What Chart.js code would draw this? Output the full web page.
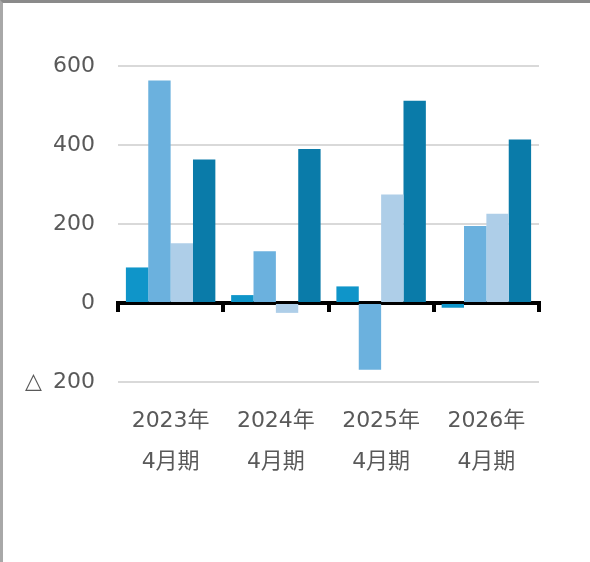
<!DOCTYPE html>
<html>
<head>
<meta charset="utf-8">
<script src="https://cdn.jsdelivr.net/npm/chart.js@4.4.1/dist/chart.umd.min.js"></script>
<style>
  html, body { margin: 0; padding: 0; background: #fff; }
  #box { position: absolute; left: 0; top: 0; width: 590px; height: 562px; }
  #frame { position: absolute; left: 0; top: 0; width: 590px; height: 562px; box-sizing: border-box;
           border-top: 3px solid #8a8a8a; border-left: 3px solid #a8a8a8; pointer-events: none; }
</style>
</head>
<body>
<div id="box"><canvas id="c" width="590" height="562"></canvas></div>
<div id="frame"></div>
<script>
var categories = [['2023年', '4月期'], ['2024年', '4月期'], ['2025年', '4月期'], ['2026年', '4月期']];
var series1 = [90, 20, 42, -12];
var series2 = [563, 131, -169, 195];
var series3 = [151, -25, 275, 226];
var series4 = [363, 390, 512, 414];
var seriesColors = ['#0f95c9', '#6bb1de', '#aecee8', '#0a7ba9'];
var yTicks = [-200, 0, 200, 400, 600];

(function(){
    var family = "'DejaVu Sans', 'Noto Sans CJK JP', sans-serif";
    var labelColor = '#595959';

    function ds(values, i){
        return { data: values, backgroundColor: seriesColors[i], borderWidth: 0,
                 categoryPercentage: 0.85, barPercentage: 1.0 };
    }

    var ctx = document.getElementById('c').getContext('2d');
    new Chart(ctx, {
        type: 'bar',
        data: { labels: categories, datasets: [ds(series1,0), ds(series2,1), ds(series3,2), ds(series4,3)] },
        options: {
            responsive: false, animation: false,
            layout: { padding: { top: 66, right: 51, left: 0, bottom: 0 } },
            plugins: { legend: { display: false }, tooltip: { enabled: false } },
            scales: {
                x: {
                    grid: { display: false, drawTicks: false }, border: { display: false },
                    ticks: { font: { family: family, size: 22, lineHeight: 1.86 }, color: labelColor, padding: 19, maxRotation: 0 },
                    afterFit: function(s){ s.height = 180; }
                },
                x2: {
                    type: 'category', labels: categories, position: { y: 0 }, z: 2,
                    grid: { drawOnChartArea: false, offset: true, color: '#000', lineWidth: 4, tickLength: 7 },
                    border: { color: '#000', width: 4 },
                    ticks: { display: false }
                },
                y: {
                    min: yTicks[0], max: yTicks[yTicks.length - 1],
                    afterBuildTicks: function(s){ s.ticks = yTicks.map(function(v){ return { value: v }; }); },
                    grid: { color: function(c){ return c.tick && c.tick.value === 0 ? 'rgba(0,0,0,0)' : '#d9d9d9'; }, lineWidth: 2, drawTicks: false },
                    border: { display: false },
                    ticks: {
                        font: { family: family, size: 22 }, color: labelColor, padding: 23,
                        callback: function(v){ return v < 0 ? '△\u2002' + Math.abs(v) : String(v); }
                    },
                    afterFit: function(s){ s.width = 118; }
                }
            }
        }
    });
})();
</script>
</body>
</html>
